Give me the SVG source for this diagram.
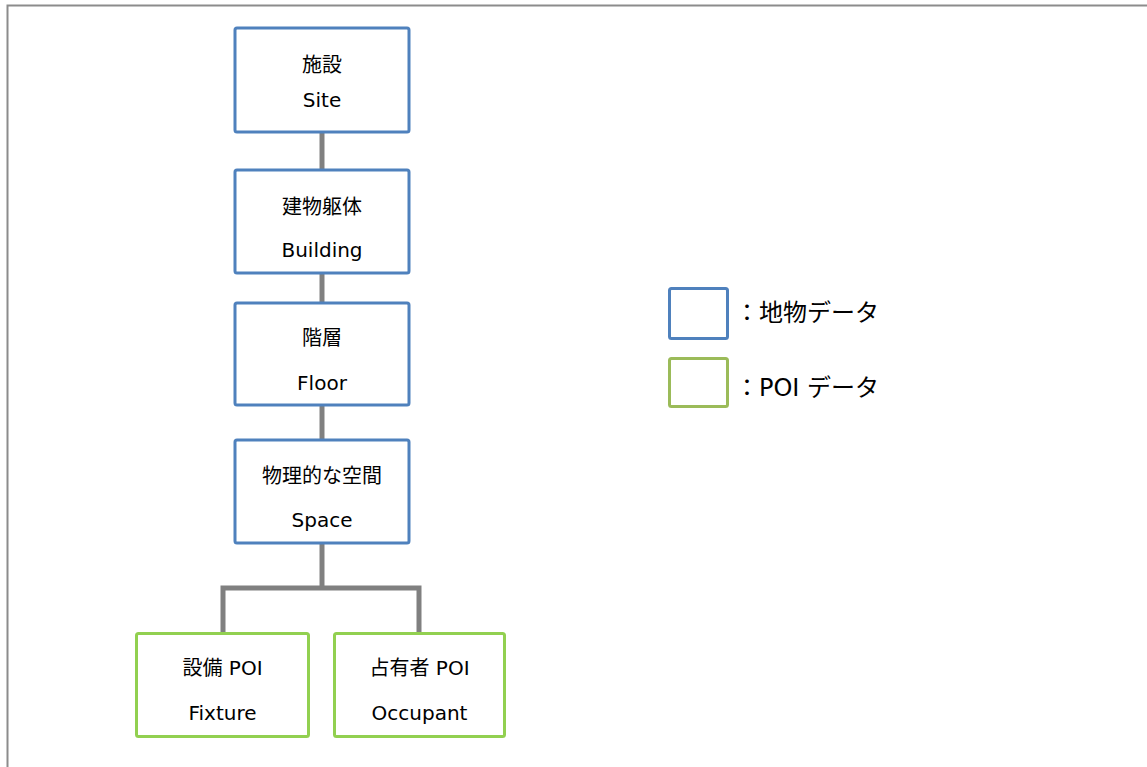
<svg xmlns="http://www.w3.org/2000/svg" width="1147" height="767" viewBox="0 0 1147 767">
<style>
.t{font-family:"DejaVu Sans","Noto Sans CJK JP",sans-serif;font-size:20px;fill:#000;text-anchor:middle}
.lg{font-family:"DejaVu Sans","Noto Sans CJK JP",sans-serif;font-size:24px;fill:#000}
.geo{fill:#fff;stroke:#4F81BD;stroke-width:3}
.poi{fill:#fff;stroke:#92D050;stroke-width:3}
.conn{fill:none;stroke:#808080;stroke-width:5}
</style>
<rect x="0" y="0" width="1147" height="767" fill="#fff"/>
<rect x="7.5" y="5.5" width="1160" height="800" fill="none" stroke="#8c8c8c" stroke-width="2"/>
<g id="connectors">
<line class="conn" x1="322" y1="133" x2="322" y2="170"/>
<line class="conn" x1="322" y1="274" x2="322" y2="303"/>
<line class="conn" x1="322" y1="406" x2="322" y2="440"/>
<line class="conn" x1="322" y1="544" x2="322" y2="588"/>
<path class="conn" d="M223 633 V588 H419 V633"/>
</g>
<g id="site">
<rect class="geo" x="235" y="28" width="174" height="104" rx="2"/>
<text class="t" x="322" y="72">施設</text>
<text class="t" x="322" y="107">Site</text>
</g>
<g id="building">
<rect class="geo" x="235" y="170" width="174" height="103" rx="2"/>
<text class="t" x="322" y="214">建物躯体</text>
<text class="t" x="322" y="257">Building</text>
</g>
<g id="floor">
<rect class="geo" x="235" y="303" width="174" height="102" rx="2"/>
<text class="t" x="322" y="345">階層</text>
<text class="t" x="322" y="390">Floor</text>
</g>
<g id="space">
<rect class="geo" x="235" y="440" width="174" height="103" rx="2"/>
<text class="t" x="322" y="483">物理的な空間</text>
<text class="t" x="322" y="527">Space</text>
</g>
<g id="fixture">
<rect class="poi" x="136.5" y="633.5" width="172" height="103" rx="2"/>
<text class="t" x="222.5" y="675">設備 POI</text>
<text class="t" x="222.5" y="720">Fixture</text>
</g>
<g id="occupant">
<rect class="poi" x="334.5" y="633.5" width="170" height="103" rx="2"/>
<text class="t" x="419.5" y="675">占有者 POI</text>
<text class="t" x="419.5" y="720">Occupant</text>
</g>
<g id="legend-geo">
<rect x="669.5" y="288.5" width="58" height="50" rx="2" fill="#fff" stroke="#4F81BD" stroke-width="3"/>
<text class="lg" x="735" y="321">：地物データ</text>
</g>
<g id="legend-poi">
<rect x="669.5" y="358.5" width="58" height="48" rx="2" fill="#fff" stroke="#9BBB59" stroke-width="3"/>
<text class="lg" x="735" y="396">：POI データ</text>
</g>
</svg>
